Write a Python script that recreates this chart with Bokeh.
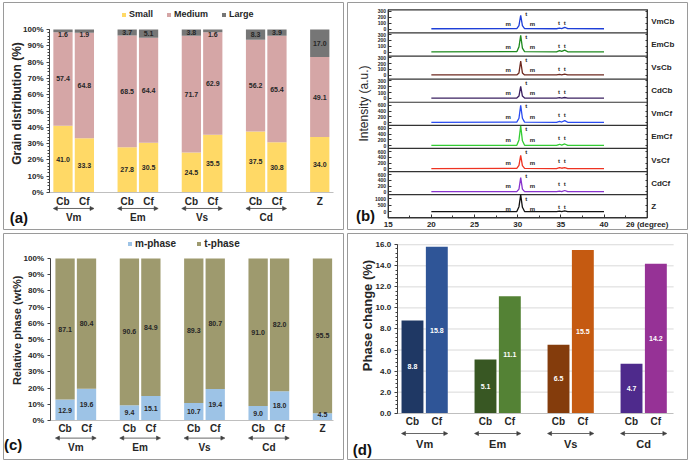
import numpy as np
from bokeh.plotting import figure
from bokeh.models import (ColumnDataSource, FixedTicker, Range1d, Arrow, NormalHead,
                          Legend, LegendItem, LinearAxis, NumeralTickFormatter)
from bokeh.layouts import column, row
from bokeh.embed import file_html
from bokeh.resources import INLINE
from bokeh.core.properties import value

FONT = "Liberation Sans"
DARK = "#262626"
AXC = "#404040"

# ---------------- data ----------------
groups = ["Vm", "Em", "Vs", "Cd"]
sample_labels = ["Cb", "Cf", "Cb", "Cf", "Cb", "Cf", "Cb", "Cf", "Z"]

grain_small = [41.0, 33.3, 27.8, 30.5, 24.5, 35.5, 37.5, 30.8, 34.0]
grain_medium = [57.4, 64.8, 68.5, 64.4, 71.7, 62.9, 56.2, 65.4, 49.1]
grain_large = [1.6, 1.9, 3.7, 5.1, 3.8, 1.6, 8.3, 3.9, 17.0]

phase_m = [12.9, 19.6, 9.4, 15.1, 10.7, 19.4, 9.0, 18.0, 4.5]
phase_t = [87.1, 80.4, 90.6, 84.9, 89.3, 80.7, 91.0, 82.0, 95.5]

change_labels = ["Cb", "Cf", "Cb", "Cf", "Cb", "Cf", "Cb", "Cf"]
phase_change = [8.8, 15.8, 5.1, 11.1, 6.5, 15.5, 4.7, 14.2]
change_colors = ["#1F3864", "#2F5597", "#385723", "#548235",
                 "#843C0C", "#C55A11", "#4E2A8C", "#963296"]

xrd_names = ["VmCb", "EmCb", "VsCb", "CdCb", "VmCf", "EmCf", "VsCf", "CdCf", "Z"]
xrd_colors = ["#1E3FD8", "#1F8A1F", "#6E2A20", "#3B2060", "#2A4CF0",
              "#33CC33", "#EE3322", "#8833CC", "#111111"]
xrd_tick_vals = [[0, 100, 200, 300]] * 4 + [[0, 200, 400, 600]] * 4 + [[0, 500, 1000]]
xrd_lo = [-66] * 4 + [-96] * 4 + [-440]
xrd_hi = [328] * 4 + [707] * 4 + [1300]
two_theta = [20.0, 29.9, 30.15, 30.35, 30.55, 30.8, 34.5, 34.85, 35.1, 35.45, 35.8, 40.0]
xrd_vmcb = [5, 8, 60, 235, 60, 8, 5, 15, 8, 30, 6, 5]
xrd_emcb = [5, 8, 90, 285, 70, 8, 6, 25, 12, 35, 6, 5]
xrd_vscb = [5, 6, 40, 240, 40, 6, 5, 15, 6, 20, 5, 5]
xrd_cdcb = [5, 6, 40, 205, 40, 6, 5, 12, 5, 15, 5, 5]
xrd_vmcf = [10, 15, 150, 600, 150, 15, 10, 40, 20, 70, 10, 10]
xrd_emcf = [10, 15, 200, 690, 170, 15, 10, 50, 20, 60, 10, 10]
xrd_vscf = [10, 15, 120, 470, 110, 15, 10, 40, 20, 40, 10, 10]
xrd_cdcf = [10, 12, 100, 500, 100, 12, 10, 25, 12, 50, 10, 10]
xrd_z = [20, 30, 400, 1280, 350, 30, 20, 60, 30, 80, 20, 20]
xrd_series = [xrd_vmcb, xrd_emcb, xrd_vscb, xrd_cdcb, xrd_vmcf, xrd_emcf, xrd_vscf, xrd_cdcf, xrd_z]
m_label_x = [28.9, 31.7]
t_label_x = [31.0, 34.8, 35.45]
two_theta_ticks = [15, 20, 25, 30, 35, 40, 45]

# slot positions of bars (group g, sub s) -> 3g+s; Z in its own slot
pos9 = [3 * (i // 2) + i % 2 for i in range(8)] + [12]
pos8 = pos9[:8]

W, H = 345, 231


def panel_fig(xr, yr, mb):
    p = figure(width=W, height=H, x_range=Range1d(*xr), y_range=Range1d(*yr),
               output_backend="svg", toolbar_location=None,
               min_border_left=mb[0], min_border_right=mb[1],
               min_border_top=mb[2], min_border_bottom=mb[3])
    p.title.visible = False
    p.outline_line_color = "#9a9a9a"
    p.outline_line_width = 1
    p.xgrid.visible = False
    p.ygrid.visible = False
    return p


def style_y(ax, loc, size, bounds):
    ax.fixed_location = loc
    ax.bounds = bounds
    ax.axis_line_color = AXC
    ax.major_tick_line_color = AXC
    ax.minor_tick_line_color = AXC
    ax.major_tick_in = 0
    ax.major_tick_out = 3
    ax.minor_tick_in = 0
    ax.minor_tick_out = 2
    ax.major_label_text_font = FONT
    ax.major_label_text_font_style = "bold"
    ax.major_label_text_font_size = size
    ax.major_label_text_color = DARK
    ax.major_label_standoff = 3


def style_x(ax, positions, labels, size, bounds):
    ax.fixed_location = 0
    ax.bounds = bounds
    ax.ticker = FixedTicker(ticks=positions)
    ax.major_label_overrides = {int(k): v for k, v in zip(positions, labels)}
    ax.axis_line_color = "#BFBFBF"
    ax.major_tick_in = 0
    ax.major_tick_out = 0
    ax.minor_tick_in = 0
    ax.minor_tick_out = 0
    ax.major_label_text_font = FONT
    ax.major_label_text_font_style = "bold"
    ax.major_label_text_font_size = size
    ax.major_label_text_color = DARK
    ax.major_label_standoff = 3


def texts(p, x, y, t, size, color=DARK, style="bold", angle=0.0):
    p.text(x=x, y=y, text=t, angle=angle, text_align="center", text_baseline="middle",
           text_font=value(FONT), text_font_style=style, text_font_size=size, text_color=color)


def group_decor(p, y_arrow, y_group, size):
    gx = []
    for g in range(len(groups)):
        a, b = pos8[2 * g], pos8[2 * g + 1]
        p.add_layout(Arrow(x_start=a - 0.45, x_end=b + 0.45, y_start=y_arrow, y_end=y_arrow,
                           start=NormalHead(size=4, fill_color=AXC, line_color=AXC, line_width=0.6),
                           end=NormalHead(size=4, fill_color=AXC, line_color=AXC, line_width=0.6),
                           line_color=AXC, line_width=0.8))
        gx.append((a + b) / 2)
    texts(p, gx, [y_group] * len(gx), groups, size)


def make_legend(p, items, size, spacing, loc):
    lg = Legend(items=items, orientation="horizontal", location=loc,
                glyph_width=5, glyph_height=5, label_height=12, label_standoff=3,
                spacing=spacing, padding=0, margin=0, border_line_alpha=0,
                background_fill_alpha=0, label_text_font=FONT, label_text_font_style="bold",
                label_text_font_size=size, label_text_color=DARK)
    p.add_layout(lg)


def clipped_stack(p, x, layers, colors, limit):
    """Stack the layers; segments are cut at the axis maximum like the original chart."""
    rends = []
    bottom = np.zeros(len(x))
    cum = np.zeros(len(x))
    for vals, col in zip(layers, colors):
        cum = cum + np.array(vals)
        top = np.minimum(cum, limit)
        src = ColumnDataSource(dict(x=x, b=list(bottom), t=list(top)))
        rends.append(p.vbar(x="x", bottom="b", top="t", width=0.9, source=src,
                            fill_color=col, line_color=None))
        bottom = top
    return rends


# ---------------- panel (a) ----------------
pa = panel_fig((-2.78, 13.11), (-22.7, 116.6), (3, 2, 2, 2))
rs_a = clipped_stack(pa, pos9, [grain_small, grain_medium, grain_large],
                     ["#FFD966", "#D5A6A6", "#767676"], 100)
make_legend(pa, [LegendItem(label=n, renderers=[r]) for n, r in zip(["Small", "Medium", "Large"], rs_a)],
            "9px", 13, (118, 209))
s = np.array(grain_small); m = np.array(grain_medium); l = np.array(grain_large)
top_vis = np.minimum(s + m + l, 100)
ya = np.concatenate([s / 2, s + m / 2, np.where(l < 3, 96.9, (s + m + top_vis) / 2)])
texts(pa, pos9 * 3, [float(v) for v in ya], ["%.1f" % v for v in list(s) + list(m) + list(l)], "7px")
style_y(pa.yaxis[0], -0.63, "8px", (0, 100))
pa.yaxis[0].ticker = FixedTicker(ticks=list(range(0, 101, 10)), minor_ticks=list(range(0, 101, 2)))
pa.yaxis[0].major_label_overrides = {v: "%d%%" % v for v in range(0, 101, 10)}
style_x(pa.xaxis[0], pos9, sample_labels, "10px", (-0.63, 12.64))
group_decor(pa, -9.8, -15.3, "10px")
texts(pa, [-2.17], [54.6], ["Grain distribution (%)"], "12px", angle=np.pi / 2)
texts(pa, [-2.06], [-15.3], ["(a)"], "15px", color="#111111")

# ---------------- panel (c) ----------------
pc = panel_fig((-2.87, 12.98), (-24.1, 115.4), (3, 2, 2, 3))
rs_c = clipped_stack(pc, pos9, [phase_m, phase_t], ["#9DC3E6", "#9E9A6E"], 100)
make_legend(pc, [LegendItem(label=n, renderers=[r]) for n, r in zip(["m-phase", "t-phase"], rs_c)],
            "10px", 20, (124, 210))
pm = np.array(phase_m); pt = np.array(phase_t)
yc = np.concatenate([np.maximum(pm / 2, 3.8), pm + pt / 2])
texts(pc, pos9 * 2, [float(v) for v in yc], ["%.1f" % v for v in list(pm) + list(pt)], "7px")
style_y(pc.yaxis[0], -0.70, "8px", (0, 100))
pc.yaxis[0].ticker = FixedTicker(ticks=list(range(0, 101, 10)))
pc.yaxis[0].major_label_overrides = {v: "%d%%" % v for v in range(0, 101, 10)}
style_x(pc.xaxis[0], pos9, sample_labels, "10px", (-0.70, 12.51))
group_decor(pc, -10.9, -16.7, "10px")
texts(pc, [-2.26], [55.6], ["Relative phase (wt%)"], "11px", angle=np.pi / 2)
texts(pc, [-2.42], [-14.8], ["(c)"], "15px", color="#111111")

# ---------------- panel (d) ----------------
pd_ = panel_fig((-2.67, 11.30), (-4.40, 17.07), (2, 3, 2, 3))
grid_vals = list(range(2, 17, 2))
pd_.segment(x0=[-0.63] * len(grid_vals), x1=[10.73] * len(grid_vals), y0=grid_vals, y1=grid_vals,
            line_color="#D9D9D9", line_width=1)
src_d = ColumnDataSource(dict(x=pos8, v=phase_change, c=change_colors,
                              ly=[v / 2 for v in phase_change],
                              lt=["%.1f" % v for v in phase_change]))
pd_.vbar(x="x", top="v", bottom=0, width=0.9, source=src_d, fill_color="c", line_color=None)
pd_.text(x="x", y="ly", text="lt", source=src_d, text_align="center", text_baseline="middle",
         text_font=value(FONT), text_font_style="bold", text_font_size="7px", text_color="white")
style_y(pd_.yaxis[0], -0.63, "8px", (0, 16))
pd_.yaxis[0].ticker = FixedTicker(ticks=list(range(0, 17, 2)), minor_ticks=[i * 0.4 for i in range(41)])
pd_.yaxis[0].formatter = NumeralTickFormatter(format="0.0")
style_x(pd_.xaxis[0], pos8, change_labels, "10px", (-0.63, 10.73))
group_decor(pd_, -1.93, -2.92, "11px")
texts(pd_, [-1.85], [9.28], ["Phase change (%)"], "13px", angle=np.pi / 2)
texts(pd_, [-2.06], [-3.45], ["(d)"], "15px", color="#111111")

# ---------------- panel (b) ----------------
nstrip = len(xrd_names)
SU = 1000  # units per strip
pb = panel_fig((10.29, 49.67), (-506, nstrip * SU + 316), (2, 3, 2, 2))

x0, x1 = two_theta_ticks[0], two_theta_ticks[-1]
pb.quad(left=[x0], right=[x1], bottom=[0], top=[nstrip * SU], fill_alpha=0,
        line_color="#333333", line_width=1.2)
seps = [k * SU for k in range(1, nstrip)]
pb.segment(x0=[x0] * len(seps), x1=[x1] * len(seps), y0=seps, y1=seps,
           line_color="#333333", line_width=1.2)

left_ticks, left_over = [], {}
for k, (name, ser) in enumerate(zip(xrd_names, xrd_series)):
    base = (nstrip - 1 - k) * SU
    lo, hi = xrd_lo[k], xrd_hi[k]
    ys = [base + (v - lo) / (hi - lo) * SU for v in ser]
    pb.line(two_theta, ys, line_color=xrd_colors[k], line_width=1.3)
    for tv in xrd_tick_vals[k]:
        yy = int(round(base + (tv - lo) / (hi - lo) * SU))
        left_ticks.append(yy)
        left_over[yy] = str(tv)
    texts(pb, m_label_x, [base + 0.38 * SU] * 2, ["m", "m"], "6px")
    texts(pb, t_label_x, [base + 0.83 * SU, base + 0.45 * SU, base + 0.45 * SU], ["t", "t", "t"], "6px")

ly = pb.yaxis[0]
ly.fixed_location = x0
ly.bounds = (0, nstrip * SU)
ly.ticker = FixedTicker(ticks=left_ticks)
ly.major_label_overrides = left_over
ly.major_tick_in = 3
ly.major_tick_out = 0
ly.minor_tick_in = 0
ly.minor_tick_out = 0
ly.axis_line_color = "#333333"
ly.major_tick_line_color = "#333333"
ly.major_label_text_font = FONT
ly.major_label_text_font_style = "bold"
ly.major_label_text_font_size = "5px"
ly.major_label_text_color = DARK
ly.major_label_standoff = 2

bx = pb.xaxis[0]
bx.fixed_location = 0
bx.bounds = (x0, x1)
bx.ticker = FixedTicker(ticks=two_theta_ticks, minor_ticks=list(np.arange(15, 45.1, 2.5)))
bx.major_label_overrides = {45: "2\u03b8 (degree)"}
bx.major_tick_in = 3
bx.major_tick_out = 0
bx.minor_tick_in = 2
bx.minor_tick_out = 0
bx.axis_line_color = "#333333"
bx.major_tick_line_color = "#333333"
bx.minor_tick_line_color = "#333333"
bx.major_label_text_font = FONT
bx.major_label_text_font_style = "bold"
bx.major_label_text_font_size = "8px"
bx.major_label_text_color = DARK
bx.major_label_standoff = 2

centers = [(nstrip - 1 - k) * SU + SU // 2 for k in range(nstrip)]
ry = LinearAxis(fixed_location=x1, bounds=(0, nstrip * SU),
                ticker=FixedTicker(ticks=centers, minor_ticks=left_ticks))
ry.major_label_overrides = {c: n for c, n in zip(centers, xrd_names)}
ry.major_tick_in = 0
ry.major_tick_out = 0
ry.minor_tick_in = 2
ry.minor_tick_out = 0
ry.minor_tick_line_color = "#333333"
ry.axis_line_color = "#333333"
ry.major_label_text_font = FONT
ry.major_label_text_font_style = "bold"
ry.major_label_text_font_size = "8px"
ry.major_label_text_color = DARK
ry.major_label_standoff = 4
pb.add_layout(ry, "right")
texts(pb, [12.25], [4946], ["Intensity (a.u.)"], "12px", style="normal", angle=np.pi / 2)
texts(pb, [12.37], [100], ["(b)"], "15px", color="#111111")

grid = column(row(pa, pb), row(pc, pd_))

open("out.html", "w").write(file_html(grid, INLINE))
